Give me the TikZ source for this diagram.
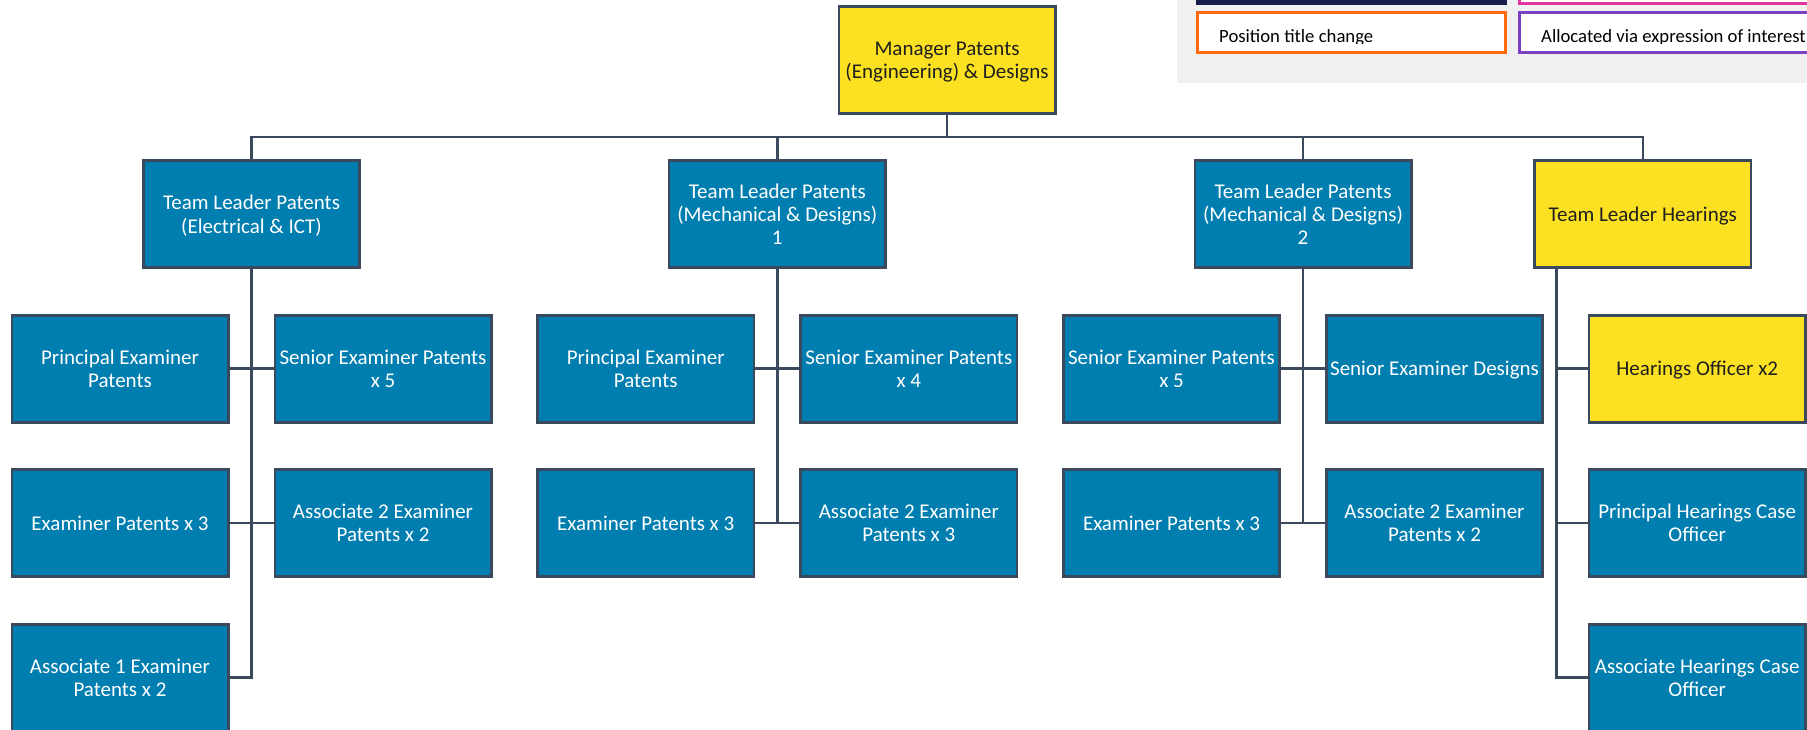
\documentclass[tikz,border=0pt]{standalone}
\usepackage{fontspec}
\setmainfont{Carlito}
\definecolor{ipblue}{RGB}{0,126,176}
\definecolor{ipyellow}{RGB}{251,225,34}
\definecolor{edgeline}{RGB}{59,73,93}
\definecolor{legnavy}{RGB}{24,28,74}
\definecolor{legpink}{RGB}{226,52,160}
\definecolor{legorange}{RGB}{255,106,12}
\definecolor{legpurple}{RGB}{124,64,194}
\definecolor{leggrey}{RGB}{240,240,240}
\tikzset{
  posbox/.style={draw=edgeline, line width=2.6pt, minimum width=216.4pt,
    minimum height=107pt, inner sep=0pt, align=center, text depth=0pt,
    font=\fontsize{21}{23.2}\selectfont},
  bluebox/.style={posbox, fill=ipblue, text=white},
  yellowbox/.style={posbox, fill=ipyellow, text=black!88},
  link/.style={draw=edgeline, line width=2.5pt},
  legbox/.style={line width=3pt, fill=white, inner sep=0pt},
  legtext/.style={inner sep=0pt, text=black, font=\fontsize{18.7}{22}\selectfont},
}
\begin{document}
\begin{tikzpicture}[x=1pt,y=-1pt]
\useasboundingbox (0,0) rectangle (1807,730);
\clip (0,0) rectangle (1807,730);

% legend panel
\fill[leggrey] (1177,-5) rectangle (1812,83);
\node[fill=legnavy, draw=legnavy, line width=1pt, inner sep=0pt,
  minimum width=310pt, minimum height=24pt] (lgnavy) at (1351.5,-7.5) {};
\node[legbox, draw=legpink, minimum width=311pt, minimum height=33pt] (lgpink) at (1674.5,-13.4) {};
\node[legbox, draw=legorange, minimum width=308pt, minimum height=39.5pt] (lgorange) at (1351.5,32.75) {};
\node[legbox, draw=legpurple, minimum width=311pt, minimum height=39.5pt] (lgpurple) at (1674.5,32.75) {};
\begin{scope}
  \clip (1190,0) rectangle (1807,43.5);
  \node[legtext, anchor=base west] (lgtorange) at (1219,42.5) {Position title change};
  \node[legtext, anchor=base west] (lgtpurple) at (1541,42.5) {Allocated via expression of interest};
\end{scope}

% manager and team leaders
\node[yellowbox] (mgr) at (947,60.2) {Manager Patents\\(Engineering) \& Designs};
\node[bluebox] (tl1) at (251.5,214.2) {Team Leader Patents\\(Electrical \& ICT)};
\node[bluebox] (tl2) at (777.3,214.2) {Team Leader Patents\\(Mechanical \& Designs)\\1};
\node[bluebox] (tl3) at (1303,214.2) {Team Leader Patents\\(Mechanical \& Designs)\\2};
\node[yellowbox] (tlh) at (1642.8,214.2) {Team Leader Hearings};

% electrical & ICT team
\node[bluebox] (c1pe) at (120,368.7) {Principal Examiner\\Patents};
\node[bluebox] (c1se) at (383,368.7) {Senior Examiner Patents\\x 5};
\node[bluebox] (c1ex) at (120,522.8) {Examiner Patents x 3};
\node[bluebox] (c1atwo) at (383,522.8) {Associate 2 Examiner\\Patents x 2};
\node[bluebox] (c1aone) at (120,677.7) {Associate 1 Examiner\\Patents x 2};

% mechanical & designs team 1
\node[bluebox] (c2pe) at (645.7,368.7) {Principal Examiner\\Patents};
\node[bluebox] (c2se) at (908.8,368.7) {Senior Examiner Patents\\x 4};
\node[bluebox] (c2ex) at (645.7,522.8) {Examiner Patents x 3};
\node[bluebox] (c2atwo) at (908.8,522.8) {Associate 2 Examiner\\Patents x 3};

% mechanical & designs team 2
\node[bluebox] (c3se) at (1171.5,368.7) {Senior Examiner Patents\\x 5};
\node[bluebox] (c3sd) at (1434.5,368.7) {Senior Examiner Designs};
\node[bluebox] (c3ex) at (1171.5,522.8) {Examiner Patents x 3};
\node[bluebox] (c3atwo) at (1434.5,522.8) {Associate 2 Examiner\\Patents x 2};

% hearings team
\node[yellowbox] (ho) at (1697.2,368.7) {Hearings Officer x2};
\node[bluebox] (phco) at (1697.2,522.8) {Principal Hearings Case\\Officer};
\node[bluebox] (ahco) at (1697.2,677.7) {Associate Hearings Case\\Officer};

% reporting lines
\coordinate (bus) at (947,136.8);
\draw[link] (mgr.south) -- (bus);
\foreach \t in {tl1,tl2,tl3,tlh} \draw[link] (\t.north) |- (bus);

\draw[link] (tl1.south) |- (c1pe.east);
\draw[link] (tl1.south) |- (c1se.west);
\draw[link] (tl1.south) |- (c1ex.east);
\draw[link] (tl1.south) |- (c1atwo.west);
\draw[link] (tl1.south) |- (c1aone.east);

\draw[link] (tl2.south) |- (c2pe.east);
\draw[link] (tl2.south) |- (c2se.west);
\draw[link] (tl2.south) |- (c2ex.east);
\draw[link] (tl2.south) |- (c2atwo.west);

\draw[link] (tl3.south) |- (c3se.east);
\draw[link] (tl3.south) |- (c3sd.west);
\draw[link] (tl3.south) |- (c3ex.east);
\draw[link] (tl3.south) |- (c3atwo.west);

\draw[link] ([xshift=-86.1pt]tlh.south) |- (ho.west);
\draw[link] ([xshift=-86.1pt]tlh.south) |- (phco.west);
\draw[link] ([xshift=-86.1pt]tlh.south) |- (ahco.west);
\end{tikzpicture}
\end{document}
